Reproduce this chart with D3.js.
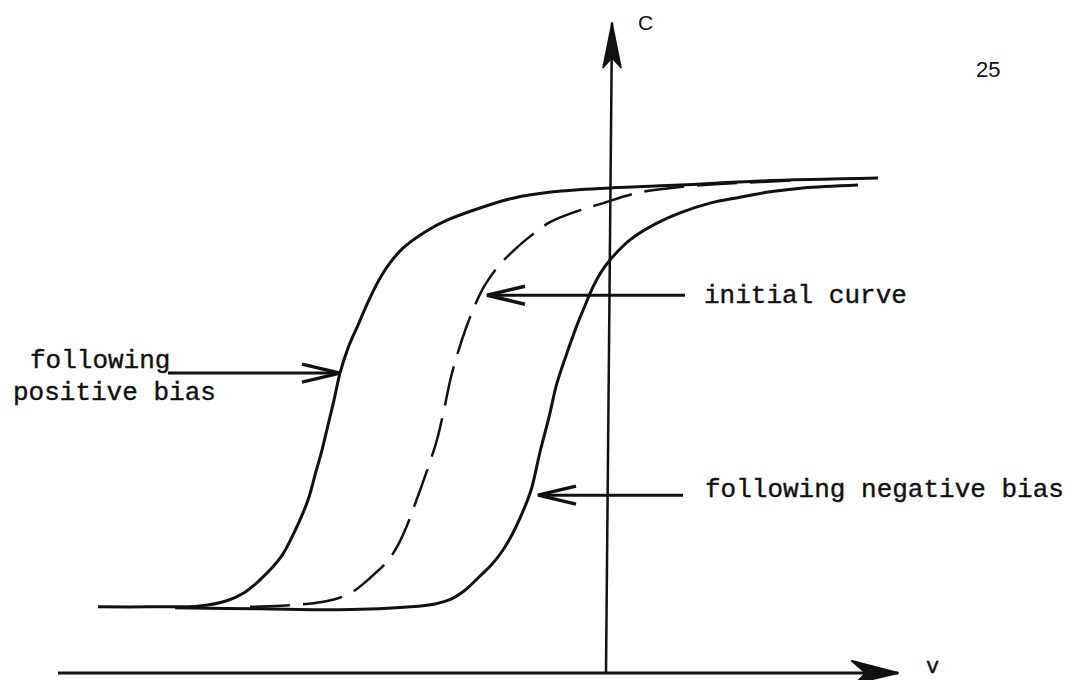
<!DOCTYPE html>
<html>
<head>
<meta charset="utf-8">
<script src="https://cdn.jsdelivr.net/npm/d3@7"></script>
<style>
  body { margin: 0; background: #fff; }
  text { fill: #111; }
  .mono { font-family: "Liberation Mono", "DejaVu Sans Mono", monospace; font-size: 26px; stroke: #111; stroke-width: 0.4; }
  .sans { font-family: "Liberation Sans", Arial, sans-serif; }
</style>
</head>
<body>
<div id="main"></div>
<script>
// C-V curves, voltage V (arbitrary units, 0 at the C axis) and normalised capacitance C
const posV = [-5.08, -4.56, -4.06, -3.80, -3.61, -3.46, -3.25, -3.12, -2.98, -2.91, -2.84, -2.78, -2.72, -2.66,
              -2.58, -2.48, -2.38, -2.27, -2.16, -2.03, -1.81, -1.59, -1.26, -0.93, -0.53, 0.04, 0.74, 1.54, 2.72];
const posC = [0.135, 0.135, 0.137, 0.147, 0.165, 0.190, 0.237, 0.286, 0.353, 0.404, 0.455, 0.506, 0.557, 0.612,
              0.663, 0.710, 0.757, 0.802, 0.837, 0.867, 0.900, 0.924, 0.949, 0.969, 0.982, 0.990, 0.996, 1.004, 1.010];

const negV = [-4.31, -3.46, -2.66, -1.95, -1.71, -1.57, -1.41, -1.27, -1.14, -1.03, -0.94, -0.86, -0.75, -0.66,
              -0.57, -0.49, -0.38, -0.29, -0.22, -0.13, -0.05, 0.04, 0.24, 0.49, 0.74, 1.04, 1.34, 1.64, 1.97, 2.52];
const negC = [0.133, 0.131, 0.129, 0.135, 0.141, 0.149, 0.169, 0.196, 0.222, 0.251, 0.282, 0.316, 0.373, 0.451,
              0.522, 0.592, 0.659, 0.710, 0.745, 0.788, 0.818, 0.843, 0.884, 0.916, 0.939, 0.959, 0.971, 0.982, 0.990, 0.996];

const initV = [-3.56, -3.25, -2.84, -2.67, -2.51, -2.36, -2.19, -2.08, -2.00, -1.92, -1.84, -1.76, -1.69, -1.62, -1.55,
               -1.48, -1.40, -1.31, -1.21, -1.09, -0.94, -0.79, -0.56, -0.28, -0.06, 0.32, 0.74, 1.14, 1.54, 1.94];
const initC = [0.135, 0.137, 0.145, 0.153, 0.169, 0.194, 0.227, 0.261, 0.296, 0.339, 0.384, 0.431, 0.476, 0.537, 0.604,
               0.655, 0.704, 0.751, 0.792, 0.827, 0.859, 0.886, 0.920, 0.943, 0.957, 0.980, 0.992, 0.998, 1.002, 1.006];

// axis ends (V, C)
const vAxis = [[0, 0], [0.06, 1.327]];
const hAxis = [[-5.48, 0], [2.92, 0]];

// annotation arrows: [tail V, tip V, C]
const arrowData = [
    { from: -4.38, to: -2.66, c: 0.612 },
    { from: 0.79, to: -1.19, c: 0.771 },
    { from: 0.77, to: -0.68, c: 0.363 }
];

const width = 1074, height = 680;

const x = d3.scaleLinear().domain([-6, 3.5]).range([6, 956]);
const y = d3.scaleLinear().domain([0, 1]).range([673, 183]);

let svg = d3.select('#main')
    .append('svg')
        .attr('width', width)
        .attr('height', height);

const line = d3.line()
    .x(d => x(d[0]))
    .y(d => y(d[1]))
    .curve(d3.curveCatmullRom.alpha(0.5));

const zip = (a, b) => a.map((v, i) => [v, b[i]]);

// axes
svg.append('path')
    .attr('d', d3.line()(hAxis.map(d => [x(d[0]), y(d[1])])))
    .attr('stroke', '#111').attr('stroke-width', 3).attr('fill', 'none');
svg.append('path')
    .attr('d', d3.line()(vAxis.map(d => [x(d[0]), y(d[1])])))
    .attr('stroke', '#111').attr('stroke-width', 2.5).attr('fill', 'none');

// axis arrow heads
const vt = [x(vAxis[1][0]), y(vAxis[1][1])];
svg.append('path')
    .attr('d', `M${vt[0]},${vt[1]} L${vt[0] - 9},${vt[1] + 45} L${vt[0]},${vt[1] + 35} L${vt[0] + 9},${vt[1] + 45} Z`)
    .attr('fill', '#111').attr('stroke', '#111').attr('stroke-width', 1.5).attr('stroke-linejoin', 'round');
const ht = [x(hAxis[1][0]), y(hAxis[1][1])];
svg.append('path')
    .attr('d', `M${ht[0]},${ht[1]} L${ht[0] - 46},${ht[1] - 12} L${ht[0] - 32},${ht[1]} L${ht[0] - 42},${ht[1] + 10} Z`)
    .attr('fill', '#111').attr('stroke', '#111').attr('stroke-width', 2).attr('stroke-linejoin', 'round');

// curves
svg.append('path')
    .attr('d', line(zip(negV, negC)))
    .attr('stroke', '#111').attr('stroke-width', 3).attr('fill', 'none');
svg.append('path')
    .attr('d', line(zip(posV, posC)))
    .attr('stroke', '#111').attr('stroke-width', 3).attr('fill', 'none');
svg.append('path')
    .attr('d', line(zip(initV, initC)))
    .attr('stroke', '#111').attr('stroke-width', 2.5).attr('fill', 'none')
    .attr('stroke-dasharray', '40,13');

// annotation arrows with open heads
arrowData.forEach(a => {
    const x0 = x(a.from), x1 = x(a.to), yy = y(a.c);
    const dir = x1 > x0 ? 1 : -1;
    svg.append('line')
        .attr('x1', x0).attr('x2', x1).attr('y1', yy).attr('y2', yy)
        .attr('stroke', '#111').attr('stroke-width', 3);
    svg.append('path')
        .attr('d', `M${x1 - dir * 38},${yy - 9} L${x1},${yy} L${x1 - dir * 38},${yy + 9}`)
        .attr('stroke', '#111').attr('stroke-width', 3.5).attr('fill', 'none')
        .attr('stroke-linejoin', 'miter');
});

// labels
svg.append('text').attr('class', 'mono').attr('x', 30).attr('y', 368).text('following');
svg.append('text').attr('class', 'mono').attr('x', 13).attr('y', 400).text('positive bias');
svg.append('text').attr('class', 'mono').attr('x', 704).attr('y', 303).text('initial curve');
svg.append('text').attr('class', 'mono').attr('x', 705).attr('y', 497).text('following negative bias');
svg.append('text').attr('class', 'mono').attr('x', 926).attr('y', 673).style('font-size', '22px').text('v');
svg.append('text').attr('class', 'sans').attr('x', 638).attr('y', 30).style('font-size', '21px').text('C');
svg.append('text').attr('class', 'sans').attr('x', 976).attr('y', 77).style('font-size', '22px').text('25');
</script>
</body>
</html>
